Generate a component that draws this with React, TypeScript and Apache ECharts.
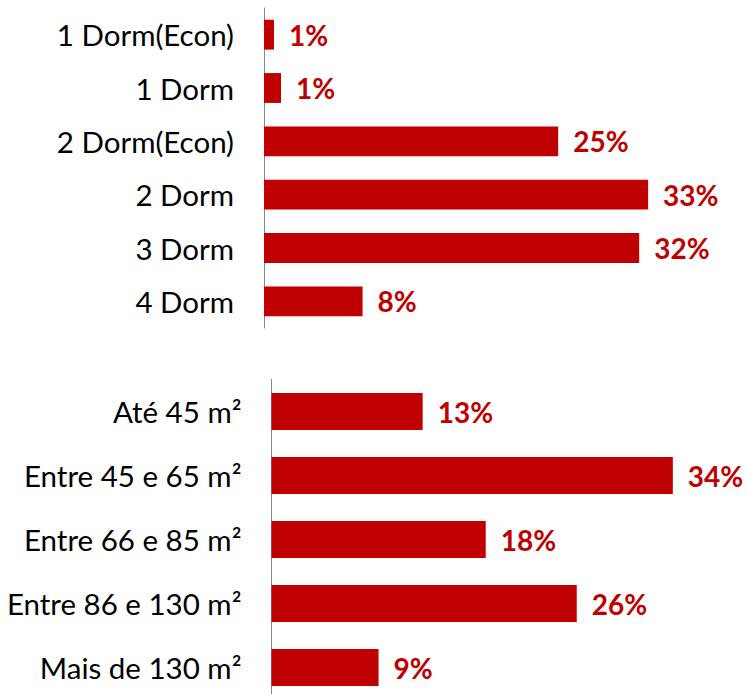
import React, { useEffect, useRef } from "react";
import * as echarts from "echarts";

const dormCategories = ["1 Dorm(Econ)", "1 Dorm", "2 Dorm(Econ)", "2 Dorm", "3 Dorm", "4 Dorm"];
const dormValues = [0.85, 1.44, 24.95, 32.58, 31.82, 8.36];
const areaCategories = ["Até 45 m²", "Entre 45 e 65 m²", "Entre 66 e 85 m²", "Entre 86 e 130 m²", "Mais de 130 m²"];
const areaValues = [12.82, 34.04, 18.17, 25.89, 9.08];

const RED = "#C00000";
const AXIS_MAX = 40;
const PX_PER_UNIT = 11.79;

export default function App() {
  const ref = useRef<HTMLDivElement>(null);
  useEffect(() => {
    if (!ref.current) return;
    const chart = echarts.init(ref.current, undefined, { renderer: "svg" });
    const catLabel = {
      color: "#000",
      fontFamily: "Lato",
      fontSize: 29.5,
      margin: 30,
    };
    const valLabel = {
      show: true,
      position: "right" as const,
      distance: 15,
      color: RED,
      fontFamily: "Lato",
      fontWeight: "bold" as const,
      fontSize: 28,
      formatter: (p: any) => Math.round(p.value) + "%",
    };
    chart.setOption({
      animation: false,
      grid: [
        { left: 264, top: 8, width: AXIS_MAX * PX_PER_UNIT, height: 320 },
        { left: 271.5, top: 379.5, width: AXIS_MAX * PX_PER_UNIT, height: 320 },
      ],
      xAxis: [
        { gridIndex: 0, type: "value", min: 0, max: AXIS_MAX, show: false },
        { gridIndex: 1, type: "value", min: 0, max: AXIS_MAX, show: false },
      ],
      yAxis: [
        {
          gridIndex: 0,
          type: "category",
          inverse: true,
          data: dormCategories,
          axisTick: { show: false },
          axisLine: { show: true, lineStyle: { color: "#888888", width: 1 } },
          axisLabel: catLabel,
        },
        {
          gridIndex: 1,
          type: "category",
          inverse: true,
          data: areaCategories,
          axisTick: { show: false },
          axisLine: { show: true, lineStyle: { color: "#888888", width: 1 } },
          axisLabel: catLabel,
        },
      ],
      series: [
        {
          type: "bar",
          xAxisIndex: 0,
          yAxisIndex: 0,
          data: dormValues,
          barCategoryGap: "44%",
          itemStyle: { color: RED },
          label: valLabel,
        },
        {
          type: "bar",
          xAxisIndex: 1,
          yAxisIndex: 1,
          data: areaValues,
          barCategoryGap: "42%",
          itemStyle: { color: RED },
          label: valLabel,
        },
      ],
    });
    return () => chart.dispose();
  }, []);
  return (
    <div
      ref={ref}
      style={{ position: "fixed", left: 0, top: 0, width: 747, height: 702, background: "#fff" }}
    />
  );
}
